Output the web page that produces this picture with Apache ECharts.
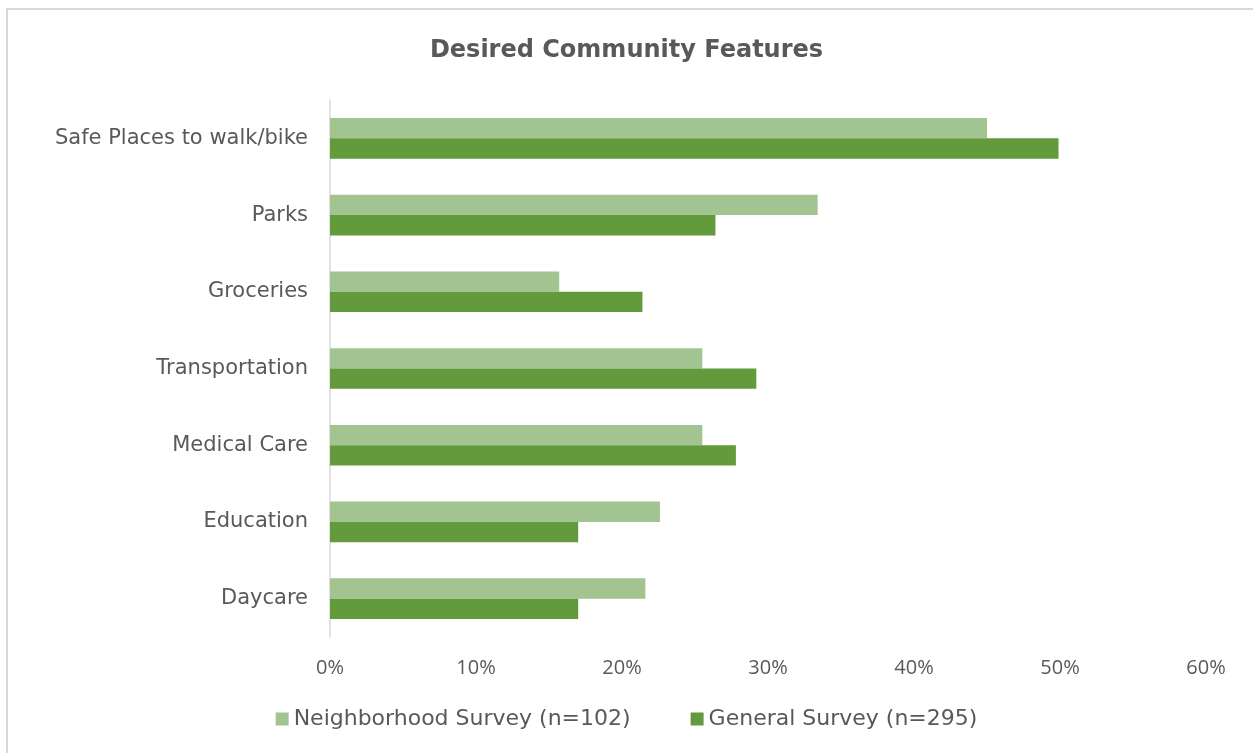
<!DOCTYPE html>
<html>
<head>
<meta charset="utf-8">
<script src="https://cdn.jsdelivr.net/npm/echarts@6/dist/echarts.min.js"></script>
<style>
html,body{margin:0;padding:0;background:#fff;}
#chart{width:1253px;height:753px;}
</style>
</head>
<body>
<div id="chart"></div>
<script>
const categories = ["Safe Places to walk/bike", "Parks", "Groceries", "Transportation", "Medical Care", "Education", "Daycare"];
const neighborhood = [45.0, 33.4, 15.7, 25.5, 25.5, 22.6, 21.6];
const general = [49.9, 26.4, 21.4, 29.2, 27.8, 17.0, 17.0];
const xTicks = [0, 10, 20, 30, 40, 50, 60];

const chart = echarts.init(document.getElementById('chart'));
const textColor = '#595959';
const catFont = 'DejaVu Sans';
chart.setOption({
  animation: false,
  backgroundColor: '#fff',
  graphic: [{
    type: 'rect',
    shape: { x: 7, y: 9, width: 1260, height: 760 },
    style: { fill: 'none', stroke: '#d9d9d9', lineWidth: 2 },
    silent: true
  }],
  title: {
    text: 'Desired Community Features',
    left: 'center', top: 34,
    textStyle: { fontFamily: catFont, fontWeight: 'bold', fontSize: 24, color: textColor }
  },
  legend: {
    bottom: 18, left: 'center',
    itemWidth: 13, itemHeight: 13, itemGap: 60,
    icon: 'rect',
    textStyle: { fontFamily: catFont, fontSize: 22, color: textColor },
    data: ['Neighborhood Survey (n=102)', 'General Survey (n=295)']
  },
  grid: { left: 330, right: 47, top: 100, bottom: 116, containLabel: false },
  xAxis: {
    type: 'value', min: 0, max: 60, interval: 10,
    axisLine: { show: false }, axisTick: { show: false },
    splitLine: { show: false },
    axisLabel: {
      margin: 21, fontFamily: 'Open Sans', fontSize: 20, color: textColor,
      formatter: v => xTicks.includes(v) ? v + '%' : ''
    }
  },
  yAxis: {
    type: 'category', data: categories, inverse: true,
    axisLine: { show: true, lineStyle: { color: '#d9d9d9', width: 1.5 } },
    axisTick: { show: false },
    axisLabel: { margin: 22, fontFamily: catFont, fontSize: 21, color: textColor }
  },
  series: [
    { name: 'Neighborhood Survey (n=102)', type: 'bar', data: neighborhood,
      itemStyle: { color: '#A2C490' }, barGap: '0%', barCategoryGap: '47%' },
    { name: 'General Survey (n=295)', type: 'bar', data: general,
      itemStyle: { color: '#629A3C' }, barGap: '0%', barCategoryGap: '47%' }
  ]
});
</script>
</body>
</html>
